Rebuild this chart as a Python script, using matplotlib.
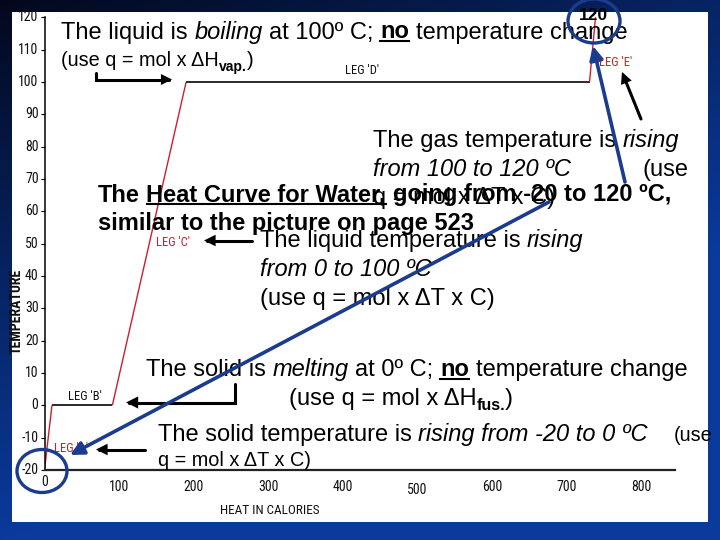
import numpy as np
import matplotlib
matplotlib.use("Agg")
import matplotlib.pyplot as plt
import matplotlib.font_manager as fm
import matplotlib.transforms as mtransforms
from matplotlib.font_manager import FontProperties
from matplotlib.patches import Rectangle, Ellipse, FancyArrowPatch
from matplotlib.path import Path

# ---------------- data ----------------
heat = [0, 10, 91, 190, 731, 739]          # calories
temp = [-20, 0, 0, 100, 100, 120]          # degrees C
leg_names = ["LEG 'A'", "LEG 'B'", "LEG 'C'", "LEG 'D'", "LEG 'E'"]
leg_colors = ["#cc1f2d", "#2a2a2a", "#cc1f2d", "#2a2a2a", "#cc1f2d"]
x_ticks = [0, 100, 200, 300, 400, 500, 600, 700, 800]
y_ticks = [-20, -10, 0, 10, 20, 30, 40, 50, 60, 70, 80, 90, 100, 110, 120]
x_label = "HEAT IN CALORIES"
y_label = "TEMPERATURE"

SANS = "Liberation Sans"
names = {f.name for f in fm.fontManager.ttflist}
NARROW = None
for cand in ["Liberation Sans Narrow", "Arial Narrow", "Nimbus Sans Narrow", "Roboto Condensed", "Open Sans Condensed"]:
    if cand in names:
        NARROW = dict(family=cand)
        break
if NARROW is None:
    NARROW = dict(family=SANS)

W, H = 720, 540
fig = plt.figure(figsize=(7.2, 5.4), dpi=100)

# ---------------- background ----------------
bg = fig.add_axes([0, 0, 1, 1], zorder=0)
bg.set_xlim(0, W); bg.set_ylim(H, 0); bg.axis("off")
yy, xx = np.mgrid[0:H, 0:W]
t = np.clip((0.45 * xx / W + 0.85 * yy / H) / 0.85, 0, 1) ** 0.9
c0 = np.array([0x03, 0x07, 0x1a]) / 255
c1 = np.array([0x0a, 0x3a, 0x9c]) / 255
img = c0[None, None, :] * (1 - t[..., None]) + c1[None, None, :] * t[..., None]
bg.imshow(img, extent=(0, W, H, 0), aspect="auto", interpolation="bilinear")
white = Rectangle((12, 12), 696, 510, facecolor="white", edgecolor="none", zorder=1)
bg.add_patch(white)

# ---------------- chart ----------------
x0p, x1p = 44.5, 675.0
ytop, ybot = 17.2, 470.0
ax = fig.add_axes([x0p / W, (H - ybot) / H, (x1p - x0p) / W, (ybot - ytop) / H], zorder=1)
ax.set_facecolor("none")
ax.set_xlim(0, (x1p - x0p) / 0.7456)
ax.set_ylim(-20, 120)
for s in ["top", "right"]:
    ax.spines[s].set_visible(False)
ax.spines["left"].set_linewidth(1.1)
ax.spines["bottom"].set_linewidth(1.6)
ax.spines["bottom"].set_color("#222222")

for i in range(len(heat) - 1):
    lw = 1.0 if leg_colors[i] != "#2a2a2a" else 1.4
    ax.plot(heat[i:i + 2], temp[i:i + 2], color=leg_colors[i], lw=lw, solid_capstyle="butt")

ax.set_yticks(y_ticks)
ax.set_yticklabels([])
ax.tick_params(axis="y", length=3, width=0.8, direction="out")
ax.set_xticks(x_ticks)
ax.set_xticklabels([])
ax.tick_params(axis="x", length=0)

tick_fp = FontProperties(size=10, **NARROW)
for v in y_ticks:
    tr = ax.transData + mtransforms.ScaledTranslation(-6 / 100, 0, fig.dpi_scale_trans)
    ax.text(0, v, str(v), transform=tr, ha="right", va="center", fontproperties=tick_fp, color="#111111")
xoff = {0: 5, 500: 13}
for v in x_ticks:
    dy = xoff.get(v, 10)
    tr = ax.transData + mtransforms.ScaledTranslation(0, -dy / 100, fig.dpi_scale_trans)
    ax.text(v, -20, str(v), transform=tr, ha="center", va="top", fontproperties=tick_fp, color="#111111")

# ---------------- overlay ----------------
ov = fig.add_axes([0, 0, 1, 1], zorder=2)
ov.set_facecolor("none")
ov.set_xlim(0, W); ov.set_ylim(H, 0); ov.axis("off")

fig.canvas.draw()
renderer = fig.canvas.get_renderer()


def tw(s, fp):
    w, h, d = renderer.get_text_width_height_descent(s, fp, ismath=False)
    return w


def sp_w(fp):
    return tw("x x", fp) - tw("xx", fp)


def seq(x, y, pieces, size, color="black", clip=None, z=5):
    for text, opts in pieces:
        fp = FontProperties(family=SANS, style=opts.get("style", "normal"),
                            weight=opts.get("weight", "normal"), size=opts.get("size", size))
        lead = len(text) - len(text.lstrip(" "))
        trail = len(text) - len(text.rstrip(" "))
        core = text.strip(" ")
        sw = sp_w(fp)
        x += lead * sw
        if core:
            tt = ov.text(x, y + opts.get("dy", 0), core, fontproperties=fp, ha="left",
                         va="baseline", color=color, zorder=z)
            if clip is not None:
                tt.set_clip_path(clip)
            w = tw(core, fp)
            if opts.get("underline"):
                ov.plot([x, x + w], [y + 2.5, y + 2.5], color=color, lw=1.5, zorder=z)
            x += w
        x += trail * sw
    return x


N = {}
I = {"style": "italic"}
B = {"weight": "bold"}
BU = {"weight": "bold", "underline": True}

seq(61, 38.5, [("The liquid is ", N), ("boiling", I), (" at 100º C; ", N), ("no", BU),
               (" temperature change", N)], 17)
seq(61, 66.5, [("(use q = mol x ΔH", N), ("vap.", {"weight": "bold", "size": 10, "dy": 4}), (")", N)], 14.3)

seq(373, 147, [("The gas temperature is ", N), ("rising", I)], 17)
seq(373, 176, [("from 100 to 120 ºC", I)], 17)
seq(642, 176, [("(use", N)], 17)
seq(373, 204, [("q = mol x ΔT x C)", N)], 17)

seq(98, 201.5, [("The ", B), ("Heat Curve for Water,", {"weight": "bold", "underline": True}),
                (" going from -20 to 120 ºC,", B)], 17)
seq(98, 230, [("similar to the picture on page 523", B)], 17)

seq(259.5, 247.5, [("The liquid temperature is ", N), ("rising", I)], 17)
seq(259.5, 276, [("from 0 to 100 ºC", I)], 17)
seq(259.5, 304.5, [("(use q = mol x ΔT x C)", N)], 17)

seq(146, 376, [("The solid is ", N), ("melting", I), (" at 0º C; ", N), ("no", BU),
               (" temperature change", N)], 17)
seq(289, 405, [("(use q = mol x ΔH", N), ("fus.", {"weight": "bold", "size": 11.5, "dy": 4.5}), (")", N)], 17)
seq(157.5, 441, [("The solid temperature is ", N), ("rising from -20 to 0 ºC", I)], 17)
seq(674, 441, [("(use", N)], 14.3, clip=white)
seq(157.5, 466.5, [("q = mol x ΔT x C)", N)], 14.3)

# leg labels
leg_pos = [(54, 449), (67.5, 396), (156, 242), (345, 71), (599, 63)]
leg_fp = FontProperties(size=9, **NARROW)
for name, col, (px, py) in zip(leg_names, leg_colors, leg_pos):
    ov.text(px, py, name, fontproperties=leg_fp, color=col if col != "#2a2a2a" else "#111111",
            ha="left", va="center", zorder=4)

# axis labels
ov.text(270, 510, x_label, fontproperties=FontProperties(size=9.5, **NARROW), ha="center", va="center",
        color="#111111", zorder=4)
ov.text(17, 311, y_label, fontproperties=FontProperties(size=10, weight="bold", **NARROW), ha="center",
        va="center", rotation=90, color="#111111", zorder=4)

# "120" label at top
ov.text(593, 16, "120", fontproperties=FontProperties(family=SANS, weight="bold", size=12.5),
        ha="center", va="center", color="black", zorder=6)

# black arrows
def black_arrow(pts, ms=14):
    p = Path(pts)
    a = FancyArrowPatch(path=p, arrowstyle="-|>", mutation_scale=ms, color="black", lw=2.2, zorder=6,
                        shrinkA=0, shrinkB=0, joinstyle="miter")
    ov.add_patch(a)

black_arrow([(96, 73), (96, 79.5), (172, 79.5)], 11)
black_arrow([(235, 384), (235, 402.5), (126, 402.5)], 13)
black_arrow([(252, 240.5), (204, 240.5)], 12)
black_arrow([(145, 449.5), (96, 449.5)], 12)
black_arrow([(641, 119), (622, 72)], 12)

BLUE = "#1b3c8e"
for (a, b) in [((549, 202), (70, 455)), ((625, 182), (593, 46))]:
    ov.add_patch(FancyArrowPatch(a, b, arrowstyle="-|>", mutation_scale=20, color=BLUE, lw=2.6,
                                 shrinkA=0, shrinkB=0, zorder=7))

ov.add_patch(Ellipse((594, 21), 52, 44, facecolor="none", edgecolor=BLUE, lw=2.4, zorder=7))
ov.add_patch(Ellipse((42, 471), 50, 43, facecolor="none", edgecolor=BLUE, lw=2.4, zorder=7))

fig.savefig("out.png", dpi=100)
